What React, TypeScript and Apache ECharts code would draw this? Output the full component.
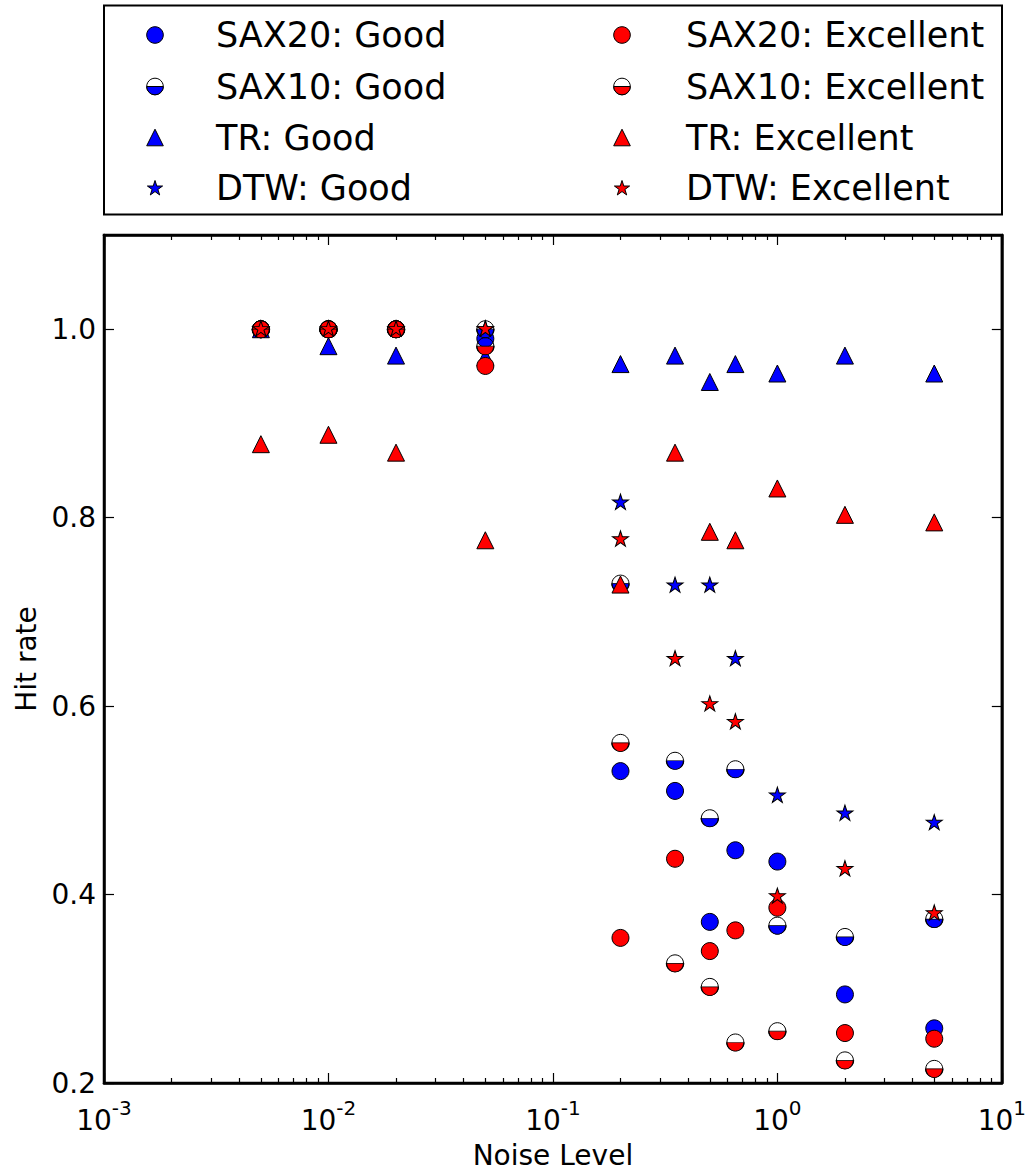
import React, { useEffect, useRef } from 'react';
import * as echarts from 'echarts';

// ---------------- data ----------------
const noiseLevels = [0.005, 0.01, 0.02, 0.05, 0.2, 0.35, 0.5, 0.65, 1, 2, 5];

const sax20Good = [1.0, 1.0, 1.0, 0.99, 0.531, 0.51, 0.371, 0.447, 0.435, 0.294, 0.258];
const sax10Good = [1.0, 1.0, 1.0, 1.0, 0.73, 0.542, 0.481, 0.533, 0.367, 0.355, 0.374];
const trGood = [1.0, 0.982, 0.972, 0.97, 0.963, 0.972, 0.944, 0.963, 0.953, 0.972, 0.953];
const dtwGood = [1.0, 1.0, 1.0, 1.0, 0.816, 0.728, 0.728, 0.65, 0.505, 0.486, 0.476];

const sax20Excellent = [1.0, 1.0, 1.0, 0.961, 0.354, 0.438, 0.34, 0.362, 0.386, 0.253, 0.247];
const sax10Excellent = [1.0, 1.0, 1.0, 0.982, 0.561, 0.327, 0.302, 0.243, 0.255, 0.224, 0.215];
const trExcellent = [0.878, 0.888, 0.869, 0.776, 0.729, 0.869, 0.785, 0.776, 0.831, 0.803, 0.795];
const dtwExcellent = [1.0, 1.0, 1.0, 1.0, 0.777, 0.65, 0.602, 0.583, 0.398, 0.427, 0.38];

const xMajorTicks = [0.001, 0.01, 0.1, 1, 10];
const yTicks = [0.2, 0.4, 0.6, 0.8, 1.0];
const minorTickDecades = [-3, -2, -1, 0];
const minorTickMultipliers = [2, 3, 4, 5, 6, 7, 8, 9];

const legendGood = ['SAX20: Good', 'SAX10: Good', 'TR: Good', 'DTW: Good'];
const legendExcellent = ['SAX20: Excellent', 'SAX10: Excellent', 'TR: Excellent', 'DTW: Excellent'];

// ---------------- style ----------------
const BLUE = '#0000ff';
const RED = '#ff0000';
const FONT = 'DejaVu Sans';
const MS = 17; // marker size

function starPoints(cx: number, cy: number, r: number): number[][] {
  const pts: number[][] = [];
  for (let i = 0; i < 10; i++) {
    const a = (-90 + 36 * i) * Math.PI / 180;
    const rr = i % 2 === 0 ? r : r * 0.382;
    pts.push([cx + rr * Math.cos(a), cy + rr * Math.sin(a)]);
  }
  return pts;
}

function starSymbol(): string {
  const pts = starPoints(0, 0, 10);
  return 'path://' + pts.map((p, i) => (i === 0 ? 'M' : 'L') + p[0].toFixed(3) + ',' + p[1].toFixed(3)).join(' ') + ' Z';
}

function halfSymbol(): string {
  const pts: string[] = [];
  const n = 40;
  for (let i = 0; i <= n; i++) {
    const t = (Math.PI * i) / n;
    pts.push((i === 0 ? 'M' : 'L') + (10 * Math.cos(t)).toFixed(3) + ',' + (10 * Math.sin(t)).toFixed(3));
  }
  return 'path://' + pts.join(' ') + ' Z';
}

const STAR = starSymbol();
const HALF = halfSymbol();

const toPairs = (ys: number[]) => noiseLevels.map((x, i) => [x, ys[i]]);

function circleSeries(name: string, ys: number[], color: string) {
  return {
    name, type: 'scatter', data: toPairs(ys), symbol: 'circle', symbolSize: MS,
    itemStyle: { color, borderColor: '#000', borderWidth: 1, opacity: 1 },
  };
}
function halfSeries(name: string, ys: number[], color: string) {
  return [
    {
      name, type: 'scatter', data: toPairs(ys), symbol: 'circle', symbolSize: MS,
      itemStyle: { color: 'rgba(0,0,0,0)', borderColor: '#000', borderWidth: 1, opacity: 1 },
    },
    {
      name, type: 'scatter', data: toPairs(ys), symbol: HALF, symbolSize: [MS, MS / 2],
      symbolOffset: [0, MS / 4],
      itemStyle: { color, borderColor: '#000', borderWidth: 1, opacity: 1 },
    },
  ];
}
function triSeries(name: string, ys: number[], color: string) {
  return {
    name, type: 'scatter', data: toPairs(ys), symbol: 'triangle', symbolSize: MS,
    itemStyle: { color, borderColor: '#000', borderWidth: 1, opacity: 1 },
  };
}
function starSeries(name: string, ys: number[], color: string) {
  return {
    name, type: 'scatter', data: toPairs(ys), symbol: STAR, symbolSize: [16, 15.2],
    symbolOffset: [0, -0.8],
    itemStyle: { color, borderColor: '#000', borderWidth: 1, opacity: 1 },
  };
}

// legend built with graphic elements
function legendMarker(kind: number, cx: number, cy: number, color: string): any[] {
  const r = MS / 2 - 0.2;
  const st = { stroke: '#000', lineWidth: 1 };
  if (kind === 0) return [{ type: 'circle', shape: { cx, cy, r }, style: { fill: color, ...st } }];
  if (kind === 1)
    return [
      { type: 'circle', shape: { cx, cy, r }, style: { fill: '#fff', ...st } },
      { type: 'sector', shape: { cx, cy, r0: 0, r, startAngle: 0, endAngle: Math.PI, clockwise: true }, style: { fill: color, ...st } },
    ];
  if (kind === 2)
    return [{ type: 'polygon', shape: { points: [[cx, cy - r], [cx - r, cy + r], [cx + r, cy + r]] }, style: { fill: color, ...st } }];
  return [{ type: 'polygon', shape: { points: starPoints(cx, cy + 0.5, 8) }, style: { fill: color, ...st } }];
}

function buildLegend(): any[] {
  const els: any[] = [
    { type: 'rect', shape: { x: 104, y: 5.5, width: 898, height: 209 }, style: { fill: '#fff', stroke: '#000', lineWidth: 2 }, z: 1 },
  ];
  const rowY = [35, 86.5, 137.5, 188];
  const cols = [
    { mx: 155, tx: 216, color: BLUE, names: legendGood },
    { mx: 622, tx: 686, color: RED, names: legendExcellent },
  ];
  cols.forEach((c) => {
    c.names.forEach((n, i) => {
      legendMarker(i, c.mx, rowY[i], c.color).forEach((e) => els.push({ ...e, z: 2 }));
      els.push({
        type: 'text', x: c.tx, y: rowY[i], z: 2,
        style: { text: n, fill: '#000', font: `35px "${FONT}"`, fontFamily: FONT, fontSize: 35, verticalAlign: 'middle', align: 'left' },
      });
    });
  });
  return els;
}

const minorTicks: number[] = [];
minorTickDecades.forEach((d) => minorTickMultipliers.forEach((m) => minorTicks.push(m * Math.pow(10, d))));

const App: React.FC = () => {
  const ref = useRef<HTMLDivElement>(null);
  useEffect(() => {
    if (!ref.current) return;
    const chart = echarts.init(ref.current, undefined, { renderer: 'svg' });
    const axisLine = { show: true, lineStyle: { color: '#000', width: 2.5 } };
    const tickStyle = { color: '#000', width: 1.2 };
    const baseX = { type: 'log', logBase: 10, min: 0.001, max: 10, splitLine: { show: false }, gridIndex: 0 };
    const option: any = {
      animation: false,
      backgroundColor: '#fff',
      textStyle: { fontFamily: FONT },
      grid: { left: 104, right: 27, top: 235, bottom: 92, show: true, borderColor: '#000', borderWidth: 2.5, backgroundColor: 'rgba(0,0,0,0)' },
      xAxis: [
        {
          ...baseX, position: 'bottom', axisLine,
          axisTick: { show: true, inside: true, length: 10, customValues: xMajorTicks, lineStyle: tickStyle },
          axisLabel: {
            show: true, customValues: xMajorTicks, margin: 15,
            formatter: (v: number) => `{b|10}{s|${Math.round(Math.log10(v))}}`,
            rich: {
              b: { fontSize: 28, color: '#000', fontFamily: FONT },
              s: { fontSize: 20, color: '#000', fontFamily: FONT, padding: [0, 0, 24, 0] },
            },
          },
          name: 'Noise Level', nameLocation: 'middle', nameGap: 58,
          nameTextStyle: { fontSize: 28, color: '#000', fontFamily: FONT },
        },
        {
          ...baseX, position: 'bottom', axisLine: { show: false },
          axisTick: { show: true, inside: true, length: 5, customValues: minorTicks, lineStyle: tickStyle },
          axisLabel: { show: false },
        },
        {
          ...baseX, position: 'top', axisLine,
          axisTick: { show: true, inside: true, length: 10, customValues: xMajorTicks, lineStyle: tickStyle },
          axisLabel: { show: false },
        },
        {
          ...baseX, position: 'top', axisLine: { show: false },
          axisTick: { show: true, inside: true, length: 5, customValues: minorTicks, lineStyle: tickStyle },
          axisLabel: { show: false },
        },
      ],
      yAxis: [
        {
          type: 'value', min: 0.2, max: 1.1, interval: 0.2, position: 'left', axisLine,
          splitLine: { show: false },
          axisTick: { show: true, inside: true, length: 10, customValues: yTicks, lineStyle: tickStyle },
          axisLabel: {
            show: true, customValues: yTicks, margin: 8, fontSize: 28, color: '#000', fontFamily: FONT,
            formatter: (v: number) => v.toFixed(1),
          },
          name: 'Hit rate', nameLocation: 'middle', nameGap: 64,
          nameTextStyle: { fontSize: 28, color: '#000', fontFamily: FONT },
        },
        {
          type: 'value', min: 0.2, max: 1.1, interval: 0.2, position: 'right', axisLine,
          splitLine: { show: false },
          axisTick: { show: true, inside: true, length: 10, customValues: yTicks, lineStyle: tickStyle },
          axisLabel: { show: false },
        },
      ],
      series: [
        circleSeries('SAX20: Good', sax20Good, BLUE),
        ...halfSeries('SAX10: Good', sax10Good, BLUE),
        triSeries('TR: Good', trGood, BLUE),
        starSeries('DTW: Good', dtwGood, BLUE),
        circleSeries('SAX20: Excellent', sax20Excellent, RED),
        ...halfSeries('SAX10: Excellent', sax10Excellent, RED),
        triSeries('TR: Excellent', trExcellent, RED),
        starSeries('DTW: Excellent', dtwExcellent, RED),
      ].map((s: any) => ({ ...s, xAxisIndex: 0, yAxisIndex: 0, emphasis: { disabled: true } })),
      graphic: buildLegend(),
    };
    chart.setOption(option);
    return () => chart.dispose();
  }, []);
  return (
    <div
      ref={ref}
      style={{ position: 'absolute', left: 0, top: 0, width: 1029, height: 1175, background: '#fff' }}
    />
  );
};

export default App;
